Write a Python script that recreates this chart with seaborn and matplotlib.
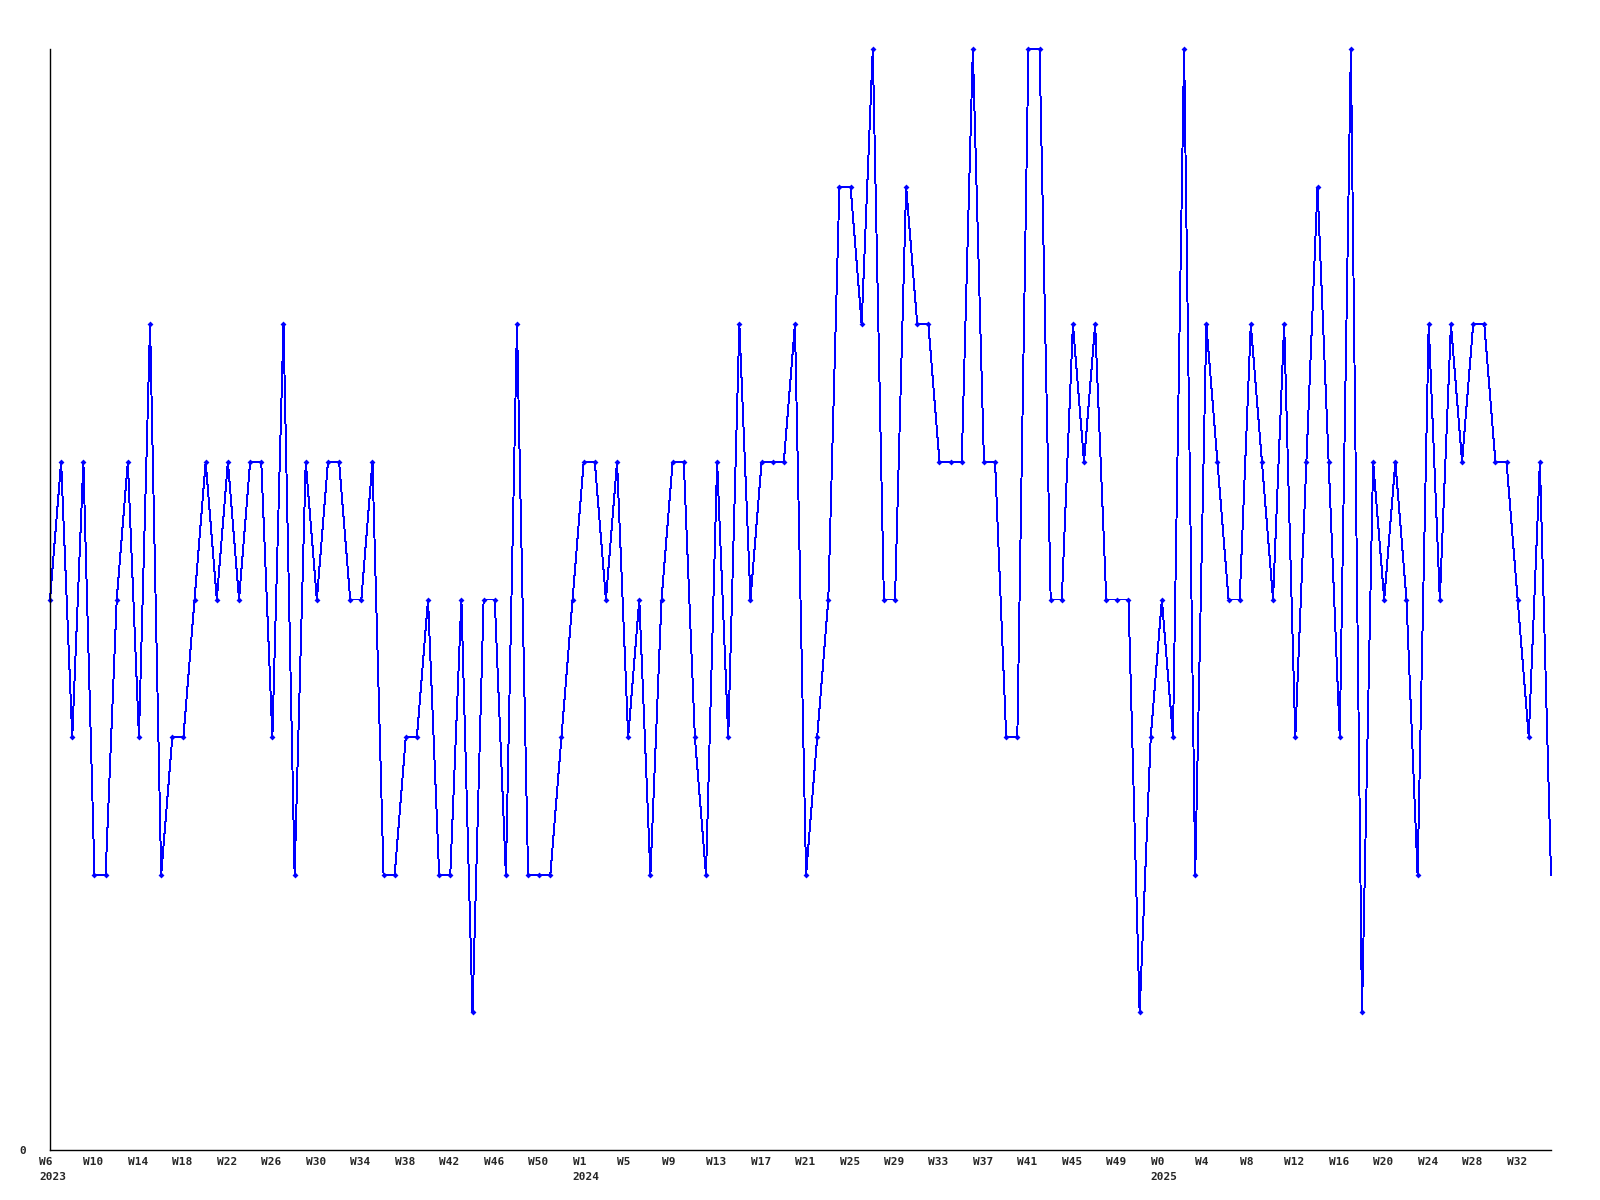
import matplotlib
matplotlib.use("Agg")
import matplotlib.pyplot as plt
import matplotlib.transforms as mtransforms
import seaborn as sns
import pandas as pd

# weekly values, W6 2023 .. W35 2025
values = [4, 5, 3, 5, 2, 2, 4, 5, 3, 6,
          2, 3, 3, 4, 5, 4, 5, 4, 5, 5,
          3, 6, 2, 5, 4, 5, 5, 4, 4, 5,
          2, 2, 3, 3, 4, 2, 2, 4, 1, 4,
          4, 2, 6, 2, 2, 2, 3, 4, 5, 5,
          4, 5, 3, 4, 2, 4, 5, 5, 3, 2,
          5, 3, 6, 4, 5, 5, 5, 6, 2, 3,
          4, 7, 7, 6, 8, 4, 4, 7, 6, 6,
          5, 5, 5, 8, 5, 5, 3, 3, 8, 8,
          4, 4, 6, 5, 6, 4, 4, 4, 1, 3,
          4, 3, 8, 2, 6, 5, 4, 4, 6, 5,
          4, 6, 3, 5, 7, 5, 3, 8, 1, 5,
          4, 5, 4, 2, 6, 4, 6, 5, 6, 6,
          5, 5, 4, 3, 5, 2]

tick_labels = ["W6\n2023", "W10", "W14", "W18", "W22", "W26", "W30", "W34",
               "W38", "W42", "W46", "W50", "W1\n2024", "W5", "W9", "W13",
               "W17", "W21", "W25", "W29", "W33", "W37", "W41", "W45",
               "W49", "W0\n2025", "W4", "W8", "W12", "W16", "W20", "W24",
               "W28", "W32"]

df = pd.DataFrame({"week": range(len(values)), "value": values})

sns.set_style("white")
plt.rcParams["font.family"] = ["DejaVu Sans Mono", "DejaVu Sans"]

fig = plt.figure(figsize=(16, 12), dpi=100)
ax = fig.add_axes([50 / 1600, 1 - 1150 / 1200, (1551 - 50) / 1600, (1150 - 49) / 1200])

sns.lineplot(data=df, x="week", y="value", ax=ax, color="#0000ff",
             linewidth=0.7, marker="D", markersize=3.0,
             markeredgewidth=0, markevery=list(range(len(values) - 1)),
             antialiased=False, clip_on=False)

ax.set_xlim(0, len(values) - 1)
ax.set_ylim(0, 8)

tick_pos = [4 * i for i in range(len(tick_labels))]
ax.set_xticks(tick_pos)
ax.set_xticklabels([])
base = ax.get_xaxis_transform()
offset = mtransforms.ScaledTranslation(-11 / 100, -7 / 100, fig.dpi_scale_trans)
for pos, lab in zip(tick_pos, tick_labels):
    ax.text(pos, 0, lab, transform=base + offset, ha="left", va="top",
            fontsize=8, fontweight="bold", linespacing=1.6, clip_on=False)

ax.set_yticks([0])
ax.set_yticklabels(["0"], fontsize=8, fontweight="bold")
ax.tick_params(axis="both", length=0)
ax.tick_params(axis="y", pad=17)

ax.set_xlabel("")
ax.set_ylabel("")
for side in ["top", "right"]:
    ax.spines[side].set_visible(False)
for side in ["left", "bottom"]:
    ax.spines[side].set_color("black")
    ax.spines[side].set_linewidth(1.0)

fig.savefig("out.png", dpi=100, facecolor="white")
